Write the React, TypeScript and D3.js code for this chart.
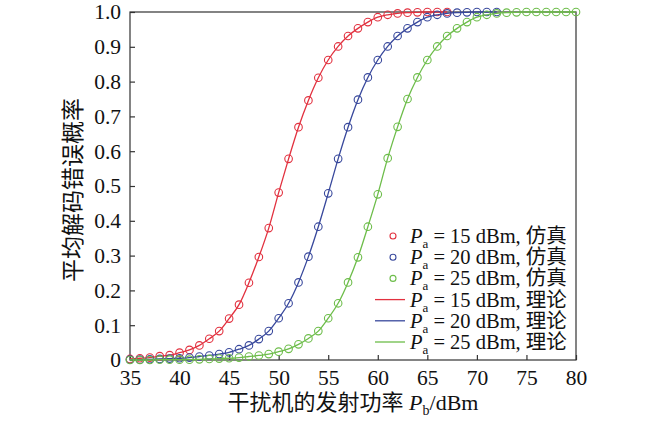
import React, { useEffect, useRef } from 'react';
import * as d3 from 'd3';

// transmit power grid of the jammer, dBm
const powerDbm = d3.range(35, 81);

// Pa = 15 dBm (35..67 dBm)
const pa15 = [
  0.003, 0.005, 0.007, 0.011, 0.014, 0.021, 0.029, 0.042, 0.061, 0.083,
  0.119, 0.159, 0.222, 0.296, 0.379, 0.481, 0.578, 0.669, 0.746, 0.811,
  0.862, 0.901, 0.931, 0.953, 0.971, 0.985, 0.992, 0.996, 0.998, 0.999,
  1.0, 1.0, 1.0,
];

// Pa = 20 dBm (35..72 dBm)
const pa20 = [
  0.001, 0.001, 0.002, 0.003, 0.004, 0.005, 0.007, 0.010, 0.013, 0.017,
  0.022, 0.031, 0.042, 0.060, 0.083, 0.120, 0.163, 0.223, 0.297, 0.383,
  0.479, 0.578, 0.669, 0.748, 0.812, 0.862, 0.901, 0.931, 0.953, 0.971,
  0.985, 0.992, 0.996, 0.998, 0.999, 1.0, 1.0, 1.0,
];

// Pa = 25 dBm (35..80 dBm)
const pa25 = [
  0.000, 0.000, 0.000, 0.001, 0.001, 0.001, 0.001, 0.002, 0.003, 0.004,
  0.005, 0.007, 0.010, 0.013, 0.017, 0.024, 0.032, 0.045, 0.062, 0.083,
  0.120, 0.163, 0.223, 0.295, 0.383, 0.476, 0.580, 0.670, 0.750, 0.812,
  0.862, 0.901, 0.931, 0.953, 0.971, 0.985, 0.992, 0.996, 0.998, 0.999,
  1.0, 1.0, 1.0, 1.0, 1.0, 1.0,
];

const seriesPa = ['15', '20', '25'];
const seriesColors = ['#e2313f', '#38489c', '#6dbd4a'];
const xTicks = [35, 40, 45, 50, 55, 60, 65, 70, 75, 80];
const yTicks = [0, 0.1, 0.2, 0.3, 0.4, 0.5, 0.6, 0.7, 0.8, 0.9, 1.0];

const serif = 'Liberation Serif, Noto Sans CJK SC, serif';

export default function App() {
  const svgRef = useRef<SVGSVGElement>(null);

  useEffect(() => {
    if (!svgRef.current) return;
    const svg = d3.select(svgRef.current);
    svg.selectAll('*').remove();

    const x = d3.scaleLinear().domain([35, 80]).range([130, 576]);
    const y = d3.scaleLinear().domain([0, 1]).range([360, 12]);

    const values = [pa15, pa20, pa25];
    const data = values.map(v => v.map((p, i) => ({ x: powerDbm[i], y: p })));

    // frame
    svg.append('rect')
      .attr('x', 130).attr('y', 12)
      .attr('width', 446).attr('height', 348)
      .attr('fill', 'none')
      .attr('stroke', '#333')
      .attr('stroke-width', 1.2);

    // axes (ticks pointing inward)
    const xAxis = svg.append('g')
      .attr('transform', 'translate(0,360)')
      .call(d3.axisBottom(x).tickValues(xTicks).tickSizeInner(-5).tickSizeOuter(0).tickPadding(10));
    const yAxis = svg.append('g')
      .attr('transform', 'translate(130,0)')
      .call(d3.axisLeft(y).tickValues(yTicks).tickSizeInner(-5).tickSizeOuter(0).tickPadding(9)
        .tickFormat(d => (d === 0 ? '0' : d3.format('.1f')(d as number))));

    [xAxis, yAxis].forEach(a => {
      a.attr('font-family', serif).attr('font-size', 21.5);
      a.select('.domain').remove();
      a.selectAll('.tick line').attr('stroke', '#333').attr('stroke-width', 1.2);
      a.selectAll('.tick text').attr('fill', '#111');
    });
    xAxis.selectAll('.tick text').attr('dy', '0.72em');

    // curves + markers
    const line = d3.line<{ x: number; y: number }>()
      .x(d => x(d.x))
      .y(d => y(d.y))
      .curve(d3.curveMonotoneX);

    data.forEach((s, i) => {
      svg.append('path')
        .datum(s)
        .attr('fill', 'none')
        .attr('stroke', seriesColors[i])
        .attr('stroke-width', 1.3)
        .attr('d', line);

      svg.append('g')
        .selectAll('circle')
        .data(s)
        .enter().append('circle')
        .attr('cx', d => x(d.x))
        .attr('cy', d => y(d.y))
        .attr('r', 3.8)
        .attr('fill', 'none')
        .attr('stroke', seriesColors[i])
        .attr('stroke-width', 1.1);
    });

    // axis titles
    const xt = svg.append('text')
      .attr('x', 353).attr('y', 410)
      .attr('text-anchor', 'middle')
      .attr('font-family', serif)
      .attr('font-size', 22)
      .attr('fill', '#111');
    xt.append('tspan').text('干扰机的发射功率 ');
    xt.append('tspan').attr('font-style', 'italic').text('P');
    xt.append('tspan').attr('dy', 5).attr('font-size', 14).text('b');
    xt.append('tspan').attr('dy', -5).text('/dBm');

    svg.append('text')
      .attr('transform', 'translate(81,190) rotate(-90)')
      .attr('text-anchor', 'middle')
      .attr('font-family', serif)
      .attr('font-size', 23)
      .attr('fill', '#111')
      .text('平均解码错误概率');

    // legend
    const legendLabels = [
      ...seriesPa.map((p, i) => ({ pa: p, kind: '仿真', color: seriesColors[i], marker: true })),
      ...seriesPa.map((p, i) => ({ pa: p, kind: '理论', color: seriesColors[i], marker: false })),
    ];
    const legend = svg.append('g');
    legendLabels.forEach((d, i) => {
      const cy = 236 + i * 21.2;
      if (d.marker) {
        legend.append('circle')
          .attr('cx', 393).attr('cy', cy).attr('r', 3)
          .attr('fill', 'none')
          .attr('stroke', d.color)
          .attr('stroke-width', 1.1);
      } else {
        legend.append('line')
          .attr('x1', 375).attr('x2', 405)
          .attr('y1', cy).attr('y2', cy)
          .attr('stroke', d.color)
          .attr('stroke-width', 1.3);
      }
      const t = legend.append('text')
        .attr('x', 410).attr('y', cy + 7)
        .attr('font-family', serif)
        .attr('font-size', 20.5)
        .attr('fill', '#111');
      t.append('tspan').attr('font-style', 'italic').text('P');
      t.append('tspan').attr('dy', 5).attr('font-size', 13).text('a');
      t.append('tspan').attr('dy', -5).text(` = ${d.pa} dBm, ${d.kind}`);
    });
  }, []);

  return (
    <svg
      ref={svgRef}
      width={650}
      height={425}
      viewBox="0 0 650 425"
      style={{ position: 'absolute', left: 0, top: 0, background: '#fff' }}
    />
  );
}
